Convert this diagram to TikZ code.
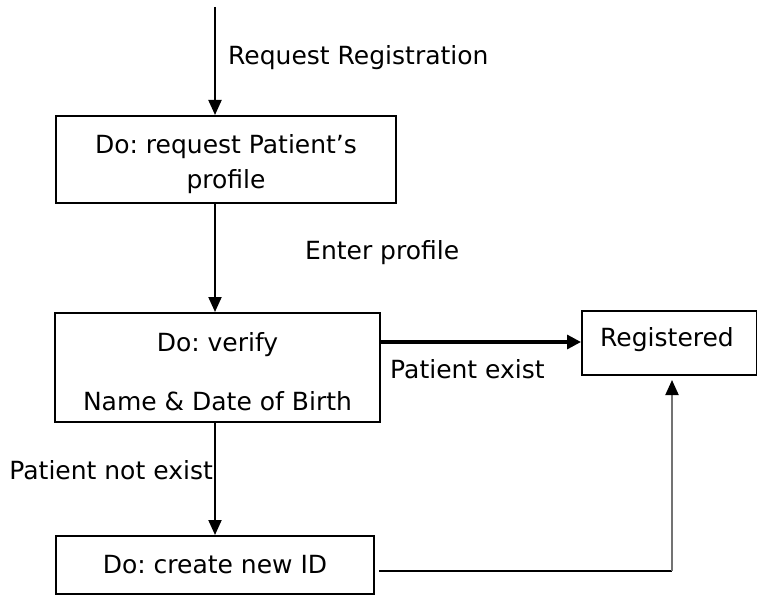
\documentclass[tikz,border=0pt]{standalone}
\usepackage{fontspec}
\setmainfont{DejaVu Sans}
\frenchspacing
\usetikzlibrary{arrows.meta,calc}
\begin{document}
\begin{tikzpicture}[x=1pt,y=-1pt,
  box/.style={draw=black,line width=2pt,rectangle,inner sep=0pt,align=center,font=\fontsize{25}{30}\selectfont},
  txt/.style={inner sep=0pt,align=center,font=\fontsize{25}{30}\selectfont},
  tip/.style={-{Triangle[width=13pt,length=15pt]}},
  flow/.style={draw=black,line width=2pt,tip},
  heavy/.style={flow,line width=3.2pt,-{Triangle[width=14pt,length=14pt]}}]
\useasboundingbox (0,0) rectangle (757,596);
% states
\node[box,minimum width=340,minimum height=87,
  label={[txt,yshift=-5pt]center:Do: request Patient’s\\[5pt]profile}] (req) at (226,159.5) {};
\node[box,minimum width=325,minimum height=109,
  label={[txt,yshift=-4pt]center:Do: verify\\[29pt]Name \& Date of Birth}] (ver) at (217.5,367.5) {};
\node[box,minimum width=318,minimum height=58] (new) at (215,565) {Do: create new ID};
\node[box,minimum width=175,minimum height=64,anchor=north west] (reg) at (581,310) {};
\node[txt,anchor=west] (regtxt) at (600,340) {Registered};
% entry point
\coordinate (start) at (215,7);
% transition labels
\node[txt,anchor=west] (lreq) at (228,58) {Request Registration};
\node[txt,anchor=west] (lent) at (305,253) {Enter profile};
\node[txt,anchor=west] (lex) at (390,369) {Patient exist};
\node[txt,anchor=east] (lnot) at (213,470) {Patient not exist};
% transitions
\draw[flow] (start) -- (start |- req.north);
\draw[flow] ([xshift=-11pt]req.south) -- ([xshift=-2.5pt]ver.north);
\draw[heavy] (ver.east |- 0,342) -- (reg.west |- 0,342);
\draw[flow] (ver.south -| 215,0) -- (new.north);
\coordinate (turn) at (672,571);
\draw[black,line width=2pt] ($(new.east)+(4,6)$) -- (turn);
\draw[draw=gray!90!black,line width=2pt,-{Triangle[width=13pt,length=15pt,color=black]}] (turn) -- ([yshift=-4pt]turn |- reg.south);
\end{tikzpicture}
\end{document}
